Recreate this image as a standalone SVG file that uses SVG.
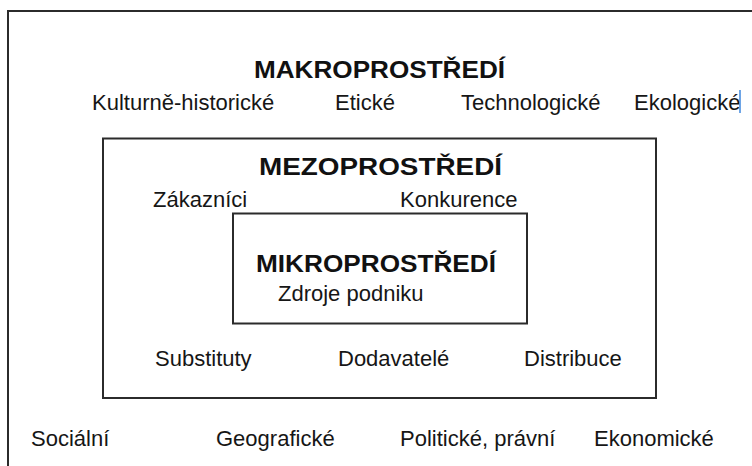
<svg xmlns="http://www.w3.org/2000/svg" width="752" height="466" viewBox="0 0 752 466">
  <style>
    .frame { fill: none; stroke: #2b2b2b; stroke-width: 2; }
    .title { font-family: "Liberation Sans", Arial, sans-serif; font-weight: bold; font-size: 24px; fill: #111; }
    .item  { font-family: "Liberation Sans", Arial, sans-serif; font-size: 22px; fill: #161616; }
    .cursor { stroke: #4a8fe0; stroke-width: 1.6; }
  </style>
  <rect width="752" height="466" fill="#ffffff"/>

  <!-- outer layer: macro environment -->
  <g id="makroprostredi">
    <rect class="frame" x="8" y="11" width="760" height="470"/>
    <text class="title" x="254" y="78" textLength="251" lengthAdjust="spacingAndGlyphs">MAKROPROSTŘEDÍ</text>
    <text class="item" x="92" y="110">Kulturně-historické</text>
    <text class="item" x="335" y="110">Etické</text>
    <text class="item" x="461" y="110">Technologické</text>
    <text class="item" x="634" y="110">Ekologické</text>
    <line class="cursor" x1="740" y1="90" x2="740" y2="113"/>
    <text class="item" x="31" y="446">Sociální</text>
    <text class="item" x="216" y="446">Geografické</text>
    <text class="item" x="400" y="446">Politické, právní</text>
    <text class="item" x="594" y="446">Ekonomické</text>
  </g>

  <!-- middle layer: meso environment -->
  <g id="mezoprostredi">
    <rect class="frame" x="103" y="138.5" width="553" height="259.5"/>
    <text class="title" x="259" y="175" textLength="243" lengthAdjust="spacingAndGlyphs">MEZOPROSTŘEDÍ</text>
    <text class="item" x="153" y="207">Zákazníci</text>
    <text class="item" x="400" y="207">Konkurence</text>
    <text class="item" x="155" y="366">Substituty</text>
    <text class="item" x="338" y="366">Dodavatelé</text>
    <text class="item" x="524" y="366">Distribuce</text>
  </g>

  <!-- inner layer: micro environment -->
  <g id="mikroprostredi">
    <rect class="frame" x="233" y="213.5" width="294" height="110"/>
    <text class="title" x="256" y="272" textLength="240" lengthAdjust="spacingAndGlyphs">MIKROPROSTŘEDÍ</text>
    <text class="item" x="278" y="301">Zdroje podniku</text>
  </g>
</svg>
